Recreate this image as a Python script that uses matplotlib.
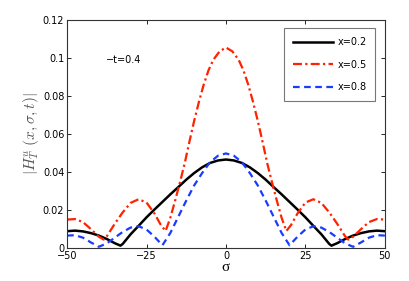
import matplotlib
matplotlib.use('Agg')
import matplotlib.pyplot as plt
from matplotlib.ticker import FuncFormatter

plt.rcParams['mathtext.fontset'] = 'cm'
plt.rcParams['font.family'] = 'DejaVu Sans'

# x = 0.2 (black, solid)
sig_02 = [-50, -47.5, -45, -42.5, -40, -37.5, -35, -33.2, -32.5, -30, -27.5, -25, -22.5, -20,
          -17.5, -15, -12.5, -10, -7.5, -5, -2.5, 0, 2.5, 5, 7.5, 10, 12.5, 15, 17.5, 20,
          22.5, 25, 27.5, 30, 32.5, 33.2, 35, 37.5, 40, 42.5, 45, 47.5, 50]
h_02 = [0.0089, 0.0092, 0.0088, 0.0079, 0.0066, 0.0048, 0.0026, 0.0013, 0.0022, 0.0073, 0.0117, 0.0162,
        0.0203, 0.0243, 0.0283, 0.0321, 0.0360, 0.0395, 0.0425, 0.0448, 0.0461, 0.0466, 0.0461, 0.0448,
        0.0425, 0.0395, 0.0360, 0.0321, 0.0283, 0.0243, 0.0203, 0.0162, 0.0117, 0.0073, 0.0022, 0.0013,
        0.0026, 0.0048, 0.0066, 0.0079, 0.0088, 0.0092, 0.0089]

# x = 0.5 (red, dash-dot)
sig_05 = [-50, -47.5, -45, -42.5, -40, -38.5, -37.5, -35, -32.5, -30, -27.5, -25, -22.5, -20.5,
          -19, -17.5, -16, -14.5, -13, -11.5, -10, -8.5, -7, -5.5, -4, -2, 0,
          2, 4, 5.5, 7, 8.5, 10, 11.5, 13, 14.5, 16, 17.5, 19,
          20.5, 22.5, 25, 27.5, 30, 32.5, 35, 37.5, 38.5, 40, 42.5, 45, 47.5, 50]
h_05 = [0.0150, 0.0153, 0.0137, 0.0100, 0.0060, 0.0045, 0.0062, 0.0128, 0.0188, 0.0238, 0.0257, 0.0240,
        0.0182, 0.0122, 0.0090, 0.0160, 0.0250, 0.0345, 0.0445, 0.0560, 0.0670, 0.0770, 0.0860, 0.0935,
        0.0990, 0.1035, 0.1055,
        0.1035, 0.0990, 0.0935, 0.0860, 0.0770, 0.0670, 0.0560, 0.0445, 0.0345, 0.0250, 0.0160, 0.0090,
        0.0122, 0.0182, 0.0240, 0.0257, 0.0238, 0.0188, 0.0128, 0.0062, 0.0045, 0.0060, 0.0100, 0.0137,
        0.0153, 0.0150]

# x = 0.8 (blue, dashed)
sig_08 = [-50, -47.5, -45, -42.5, -40, -37.5, -35, -32.5, -30, -27.5, -25, -22.5, -20, -17.5, -15,
          -12.5, -10, -7.5, -5, -2.5, 0, 2.5, 5, 7.5, 10, 12.5, 15, 17.5, 20, 22.5, 25, 27.5, 30,
          32.5, 35, 37.5, 40, 42.5, 45, 47.5, 50]
h_08 = [0.0066, 0.0068, 0.0055, 0.0030, 0.0007, 0.0025, 0.0055, 0.0085, 0.0108, 0.0115, 0.0098, 0.0060,
        0.0015, 0.0080, 0.0165, 0.0250, 0.0330, 0.0395, 0.0452, 0.0486, 0.0498, 0.0486, 0.0452, 0.0395,
        0.0330, 0.0250, 0.0165, 0.0080, 0.0015, 0.0060, 0.0098, 0.0115, 0.0108, 0.0085, 0.0055, 0.0025,
        0.0007, 0.0030, 0.0055, 0.0068, 0.0066]

fig = plt.figure(figsize=(4.09, 2.81), dpi=100)
ax = fig.add_axes([0.164, 0.117, 0.777, 0.812])

ax.plot(sig_02, h_02, color='black', lw=1.8, label='x=0.2')
ax.plot(sig_05, h_05, color='#ff2200', lw=1.6, ls=(0, (4, 1.5, 1, 1.5)), label='x=0.5')
ax.plot(sig_08, h_08, color='#1a3cff', lw=1.6, ls=(0, (3, 2)), label='x=0.8')

ax.set_xlim(-50, 50)
ax.set_ylim(0, 0.12)
ax.set_xticks([-50, -25, 0, 25, 50])
ax.set_yticks([0, 0.02, 0.04, 0.06, 0.08, 0.1, 0.12])
ax.yaxis.set_major_formatter(FuncFormatter(lambda v, p: ('%g' % round(v, 4))))
ax.tick_params(direction='in', top=True, right=True, labelsize=7, length=3, width=0.6, pad=2)
for s in ax.spines.values():
    s.set_linewidth(0.8)
    s.set_color('#333333')

ax.text(-37.6, 0.099, '\u2212t=0.4', fontsize=7, va='center', ha='left')
ax.set_xlabel('\u03c3', fontsize=11, family='Liberation Serif', labelpad=0)
ax.set_ylabel(r'$|H_T^u\;(x,\sigma,t)|$', fontsize=11, color='#555555', labelpad=1)

leg = ax.legend(loc='upper right', fontsize=7, fancybox=False, edgecolor='#555555',
                handlelength=4.2, labelspacing=1.3, borderpad=0.9, handletextpad=0.4,
                bbox_to_anchor=(0.985, 0.985))
leg.get_frame().set_linewidth(0.8)

fig.savefig('out.png', dpi=100)
